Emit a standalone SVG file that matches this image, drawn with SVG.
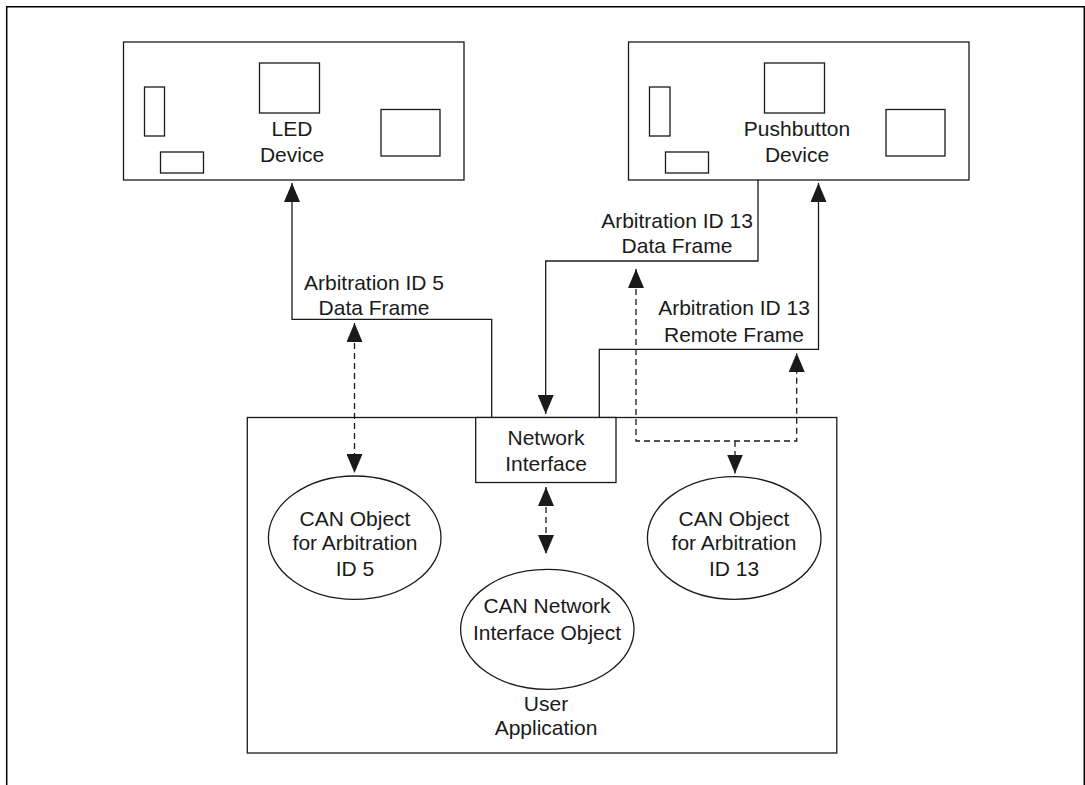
<svg xmlns="http://www.w3.org/2000/svg" width="1085" height="785" viewBox="0 0 1085 785">
  <style>
    .box { fill: #ffffff; stroke: #1a1a1a; stroke-width: 1.3; }
    .part { fill: none; stroke: #1a1a1a; stroke-width: 1.3; }
    .wire { fill: none; stroke: #1a1a1a; stroke-width: 1.3; }
    .dash { fill: none; stroke: #1a1a1a; stroke-width: 1.3; stroke-dasharray: 6 4; }
    text { font-family: "Liberation Sans", Arial, Helvetica, sans-serif; font-size: 21px; fill: #1a1a1a; text-anchor: middle; }
  </style>
  <defs>
    <marker id="arrow" markerUnits="userSpaceOnUse" markerWidth="20" markerHeight="16" refX="19" refY="8" orient="auto-start-reverse">
      <path d="M0,0 L19,8 L0,16 Z" fill="#1a1a1a" stroke="none"/>
    </marker>
  </defs>

  <rect width="1085" height="785" fill="#ffffff"/>
  <path id="frame" d="M6.7,785 V6.7 H1084.3 V785" fill="none" stroke="#000" stroke-width="1.5"/>

  <g id="led-device">
    <rect class="box" x="123.5" y="42" width="340.5" height="138"/>
    <rect class="part" x="144.5" y="87" width="20" height="49"/>
    <rect class="part" x="160.5" y="152" width="43" height="21"/>
    <rect class="part" x="259.5" y="63" width="60" height="50"/>
    <rect class="part" x="381" y="109.5" width="59" height="46.5"/>
    <text x="292" y="136">LED</text>
    <text x="292" y="161.5">Device</text>
  </g>

  <g id="pushbutton-device">
    <rect class="box" x="628.5" y="42" width="340.5" height="138"/>
    <rect class="part" x="649.5" y="87" width="20.5" height="49"/>
    <rect class="part" x="665.5" y="152" width="43" height="21"/>
    <rect class="part" x="764.5" y="63" width="60" height="50"/>
    <rect class="part" x="886" y="109.5" width="59" height="46.5"/>
    <text x="797" y="136">Pushbutton</text>
    <text x="797" y="161.5">Device</text>
  </g>

  <g id="user-application">
    <rect class="box" x="247.3" y="417.5" width="589.5" height="335.5"/>
    <text x="546" y="710.5">User</text>
    <text x="546" y="735">Application</text>
  </g>

  <g id="network-interface">
    <rect class="box" x="475.7" y="417.5" width="140.3" height="65"/>
    <text x="546" y="444.5">Network</text>
    <text x="546" y="470.5">Interface</text>
  </g>

  <g id="can-object-5">
    <ellipse class="box" cx="354.7" cy="537.7" rx="86.3" ry="61.7"/>
    <text x="355" y="525.5">CAN Object</text>
    <text x="355" y="550">for Arbitration</text>
    <text x="355" y="575.5">ID 5</text>
  </g>

  <g id="can-network-interface-object">
    <ellipse class="box" cx="547.3" cy="629.3" rx="86.7" ry="60"/>
    <text x="547" y="613.3">CAN Network</text>
    <text x="547" y="640">Interface Object</text>
  </g>

  <g id="can-object-13">
    <ellipse class="box" cx="734.2" cy="538" rx="86.8" ry="61.3"/>
    <text x="734" y="525.5">CAN Object</text>
    <text x="734" y="550">for Arbitration</text>
    <text x="734" y="575.5">ID 13</text>
  </g>

  <g id="connectors">
    <!-- Arbitration ID 5 data frame: network to LED device -->
    <path class="wire" d="M491.7,417.5 V319.3 H292 V183" marker-end="url(#arrow)"/>
    <!-- Arbitration ID 13 data frame: pushbutton to network interface -->
    <path class="wire" d="M758,180 V261 H545.7 V414" marker-end="url(#arrow)"/>
    <!-- Arbitration ID 13 remote frame: network to pushbutton device -->
    <path class="wire" d="M599.3,417.5 V349.3 H818.5 V183" marker-end="url(#arrow)"/>

    <!-- dashed: ID 5 frame to CAN object 5 -->
    <path class="dash" d="M354.5,323 V473" marker-start="url(#arrow)" marker-end="url(#arrow)"/>
    <!-- dashed: ID 13 frames to CAN object 13 -->
    <path class="dash" d="M636,269 V441 H796.7 V353" marker-start="url(#arrow)" marker-end="url(#arrow)"/>
    <path class="dash" d="M735,441 V473.5" marker-end="url(#arrow)"/>
    <!-- dashed: network interface to CAN network interface object -->
    <path class="dash" d="M546,487 V554" marker-start="url(#arrow)" marker-end="url(#arrow)"/>

    <text x="374" y="290">Arbitration ID 5</text>
    <text x="374" y="315">Data Frame</text>
    <text x="677" y="227.7">Arbitration ID 13</text>
    <text x="677" y="252.7">Data Frame</text>
    <text x="734" y="315">Arbitration ID 13</text>
    <text x="734" y="341.5">Remote Frame</text>
  </g>
</svg>
